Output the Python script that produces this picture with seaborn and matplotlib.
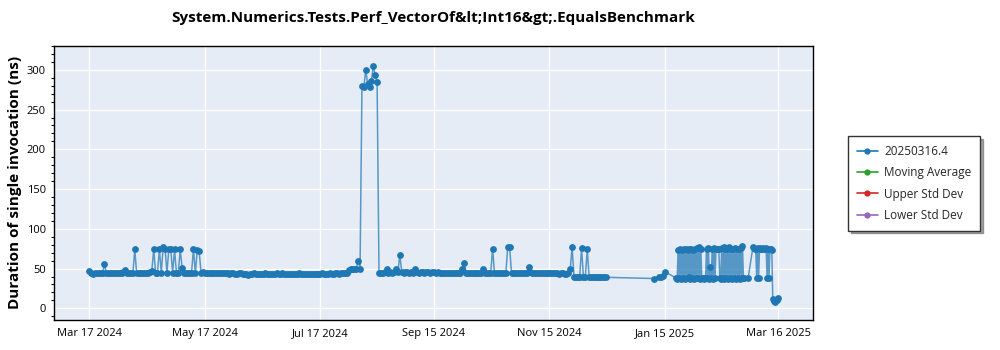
import numpy as np
import pandas as pd
import matplotlib
matplotlib.use("Agg")
import matplotlib.pyplot as plt
import matplotlib.dates as mdates
from matplotlib.lines import Line2D
from matplotlib.ticker import MultipleLocator, FuncFormatter
import seaborn as sns

nan = np.nan

chart_title = "System.Numerics.Tests.Perf_VectorOf&lt;Int16&gt;.EqualsBenchmark"
y_label = "Duration of single invocation (ns)"
series_name = "20250316.4"

# 2024 runs: one value per day from 2024-03-17 to 2024-12-15 (ns)
daily_start = "2024-03-17"
daily_values = [
    47, 44, 43, 44, 44, 45, 44, 44, 56, 44,
    44, 45, 44, 44, 45, 44, 44, 45, 46, 48,
    45, 44, 44, 44, 74, 44, 44, 45, 44, 44,
    45, 45, 46, 47, 74, 45, 45, 74, 45, 77,
    75, 45, 75, 74, 45, 74, 45, 45, 74, 51,
    45, 45, 44, 45, 45, 75, 44, 73, 72, 45,
    46, 45, 45, 44, 44, 45, 44, 44, 45, 44,
    44, 44, 45, 44, 43, 44, 44, 43, 43, 44,
    44, 43, 43, 43, 42, 43, 43, 44, 43, 43,
    43, 43, 43, 44, 43, 43, 43, 43, 43, 44,
    43, 43, 44, 43, 43, 43, 43, 43, 43, 43,
    43, 44, 43, 43, 43, 43, 43, 43, 43, 43,
    43, 43, 43, 44, 43, 43, 43, 44, 43, 43,
    44, 44, 43, 44, 44, 45, 44, 48, 49, 49,
    49, 50, 60, 50, 280, 278, 300, 282, 279, 286,
    305, 293, 285, 44, 44, 45, 46, 50, 45, 46,
    45, 46, 49, 46, 67, 46, 45, 46, 46, 45,
    46, 45, 49, 46, 45, 46, 46, 45, 46, 46,
    45, 46, 46, 45, 46, 45, 45, 45, 44, 44,
    44, 44, 44, 44, 44, 45, 44, 50, 57, 45,
    44, 44, 44, 45, 44, 44, 44, 45, 50, 45,
    44, 45, 44, 75, 44, 45, 44, 44, 45, 44,
    44, 77, 77, 44, 44, 45, 44, 44, 44, 44,
    44, 45, 52, 46, 44, 44, 44, 44, 44, 44,
    44, 45, 44, 44, 44, 44, 44, 44, 43, 44,
    44, 43, 43, 44, 49, 77, 40, 39, 40, 39,
    76, 39, 40, 74, 40, 39, 40, 39, 39, 40,
    39, 39, 40, 39,
]

# early January 2025 runs
jan_dates = ["2025-01-09 00:00", "2025-01-12 00:00", "2025-01-13 00:00",
             "2025-01-14 00:00", "2025-01-15 00:00"]
jan_values = [37.5, 39, 40, 41, 46]

# two runs per day from 2025-01-21 to 2025-03-12 (nan = run missing)
twice_daily_start = "2025-01-21"
twice_daily_values = [
    38, 37, 73, 38, 74, 37, 73, 38, 75, 37,
    74, 38, 73, 39, 74, 37, 75, 38, 73, 37,
    74, 38, 76, 38, 77, 37, 74, 38, 38, 37,
    38, 38, 75, 38, 76, 37, 52, 38, 75, 37,
    76, 38, 74, 74, 75, 74, 38, 37, 76, 38,
    77, 37, 75, 38, 74, 37, 77, 38, 75, 37,
    74, 38, 76, 37, 75, 38, 74, 37, 76, 38,
    78, 38, 38, nan, nan, nan, 38, nan, nan, nan,
    nan, 77, 76, 75, 74, 38, 76, 38, 75, 76,
    74, 75, 76, 75, 74, 76, 38, 75, 38, 74,
    75, 73,
]

# last runs, 2025-03-13 to 2025-03-16
tail_dates = ["2025-03-13 00:00", "2025-03-13 12:00", "2025-03-14 00:00",
              "2025-03-15 00:00", "2025-03-16 00:00"]
tail_values = [12, 9, 8, 10, 13]

tick_dates = ["2024-03-17", "2024-05-17", "2024-07-17", "2024-09-15",
              "2024-11-15", "2025-01-15", "2025-03-16"]
y_ticks = [0, 50, 100, 150, 200, 250, 300]

legend_labels = [series_name, "Moving Average", "Upper Std Dev", "Lower Std Dev"]
legend_colors = ["#1f77b4", "#2ca02c", "#d62728", "#9467bd"]

df = pd.concat([
    pd.DataFrame({"date": pd.date_range(daily_start, periods=len(daily_values), freq="D"),
                  "duration": daily_values}),
    pd.DataFrame({"date": pd.to_datetime(jan_dates, format="%Y-%m-%d %H:%M"),
                  "duration": jan_values}),
    pd.DataFrame({"date": pd.date_range(twice_daily_start, periods=len(twice_daily_values), freq="12h"),
                  "duration": twice_daily_values}),
    pd.DataFrame({"date": pd.to_datetime(tail_dates, format="%Y-%m-%d %H:%M"),
                  "duration": tail_values}),
], ignore_index=True).dropna()

sns.set_style("white")
plt.rcParams["font.family"] = ["Open Sans", "DejaVu Sans"]

fig = plt.figure(figsize=(10, 3.5), dpi=100)
ax = fig.add_axes([0.054, 0.0857, 0.759, 0.7829])
ax.set_facecolor("#e5ecf6")

sns.lineplot(data=df, x="date", y="duration", estimator=None, sort=False,
             color="#1f77b4", linewidth=1.1, alpha=0.72, ax=ax)
sns.scatterplot(data=df, x="date", y="duration", color="#1f77b4", s=24,
                linewidth=0, ax=ax, zorder=3)

ax.set_xlim(pd.Timestamp("2024-02-27 08:00"), pd.Timestamp("2025-04-03 06:00"))
ax.set_ylim(-14.7, 330)

ax.set_xticks(pd.to_datetime(tick_dates))
ax.xaxis.set_major_formatter(mdates.DateFormatter("%b %d %Y"))
ax.set_yticks(y_ticks)
ax.yaxis.set_minor_locator(MultipleLocator(10))
ax.yaxis.set_major_formatter(FuncFormatter(lambda v, p: f"{v:.0f}"))

ax.grid(True, which="major", color="white", linewidth=1)
ax.set_axisbelow(True)
ax.tick_params(axis="both", which="major", direction="out", length=4,
               width=0.8, color="black", labelsize=8, labelcolor="black", pad=2)
ax.tick_params(axis="y", which="minor", direction="out", length=2,
               width=0.8, color="black", left=True)
for s in ax.spines.values():
    s.set_visible(True)
    s.set_color("black")
    s.set_linewidth(1)

ax.set_xlabel("")
ax.set_ylabel("")

fig.text(0.4335, 0.949, chart_title, ha="center", va="center",
         fontsize=11, fontweight="bold", color="black")
fig.text(0.015, 0.48, y_label, ha="center", va="center", rotation=90,
         fontsize=11, fontweight="bold", color="black")

handles = [Line2D([], [], color=c, marker="o", markersize=3.5, linewidth=1.2)
           for c in legend_colors]
leg = fig.legend(handles, legend_labels, loc="upper left",
                 bbox_to_anchor=(0.848, 0.611), bbox_transform=fig.transFigure,
                 fontsize=8.5, frameon=True, fancybox=False, shadow=True,
                 handlelength=1.8, handletextpad=0.5, labelspacing=0.7,
                 borderpad=0.75, borderaxespad=0)
leg.get_frame().set_edgecolor("#333333")
leg.get_frame().set_linewidth(1)

fig.savefig("out.png", dpi=100)
